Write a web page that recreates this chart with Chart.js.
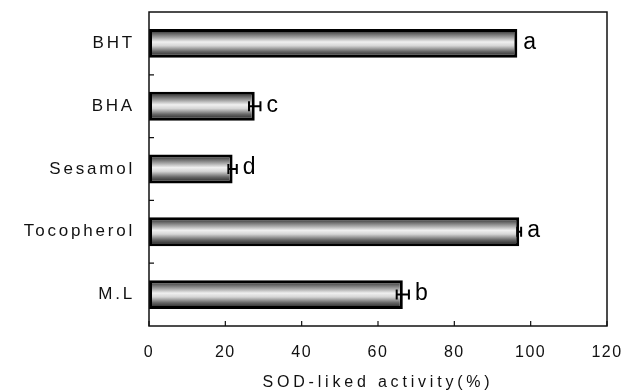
<!DOCTYPE html>
<html>
<head>
<meta charset="utf-8">
<script src="https://cdn.jsdelivr.net/npm/chart.js@4.4.0/dist/chart.umd.min.js"></script>
<style>
  html, body { margin: 0; padding: 0; background: #fff; }
  #wrap { width: 638px; height: 392px; }
</style>
</head>
<body>
<div id="wrap"><canvas id="sod_chart"></canvas></div>
<script>
const samples = ["BHT", "BHA", "Sesamol", "Tocopherol", "M.L"];
const activity = [96.5, 27.7, 21.9, 97, 66.5];
const errors = [0, 1.5, 1.1, 0.5, 1.6];
const letters = ["a", "c", "d", "a", "b"];
const xTicks = [0, 20, 40, 60, 80, 100, 120];

const ctx = document.getElementById("sod_chart").getContext("2d");

function barGradient(context) {
  const chart = context.chart;
  const y = chart.scales.y;
  if (!chart.chartArea || !y) return "#999";
  const cy = y.getPixelForValue(context.dataIndex);
  const half = 14.5;
  const g = chart.ctx.createLinearGradient(0, cy - half, 0, cy + half);
  g.addColorStop(0, "#111");
  g.addColorStop(0.15, "#5e5e5e");
  g.addColorStop(0.3, "#a5a5a5");
  g.addColorStop(0.45, "#f0f0f0");
  g.addColorStop(0.58, "#d6d6d6");
  g.addColorStop(0.78, "#666");
  g.addColorStop(1, "#111");
  return g;
}

// wrap a scale's drawing so its text gets some letter spacing
function spaced(fn, px) {
  return function () {
    const c = this.ctx;
    const old = c.letterSpacing;
    c.letterSpacing = px;
    const r = fn.apply(this, arguments);
    c.letterSpacing = old;
    return r;
  };
}

// frame, inward ticks, error bars and letters
const extras = {
  id: "extras",
  afterDatasetsDraw(chart) {
    const c = chart.ctx;
    const area = chart.chartArea;
    const x = chart.scales.x;
    const y = chart.scales.y;
    c.save();
    c.strokeStyle = "#111";
    c.lineWidth = 1.5;
    c.strokeRect(area.left, area.top, area.right - area.left, area.bottom - area.top);

    // y ticks between categories
    const step = (area.bottom - area.top) / samples.length;
    c.beginPath();
    for (let i = 1; i < samples.length; i++) {
      const py = y.getPixelForValue(i) - step / 2;
      c.moveTo(area.left, py);
      c.lineTo(area.left + 5, py);
    }
    // x ticks
    xTicks.forEach(v => {
      const px = x.getPixelForValue(v);
      c.moveTo(px, area.bottom);
      c.lineTo(px, area.bottom - 5);
    });
    c.lineWidth = 1.2;
    c.stroke();

    // error bars
    c.lineWidth = 2;
    c.strokeStyle = "#000";
    for (let i = 0; i < activity.length; i++) {
      const cy = y.getPixelForValue(i);
      if (errors[i] > 0) {
        const x1 = x.getPixelForValue(activity[i] - errors[i]);
        const x2 = x.getPixelForValue(activity[i] + errors[i]);
        c.beginPath();
        c.moveTo(x1, cy); c.lineTo(x2, cy);
        c.moveTo(x1, cy - 5); c.lineTo(x1, cy + 5);
        c.moveTo(x2, cy - 5); c.lineTo(x2, cy + 5);
        c.stroke();
      }
      const lx = x.getPixelForValue(activity[i] + errors[i]) + 6;
      c.fillStyle = "#000";
      c.font = "23px 'Liberation Sans', Arial, sans-serif";
      c.textAlign = "left";
      c.textBaseline = "middle";
      c.fillText(letters[i], lx, cy - 1);
    }
    c.restore();
  }
};

new Chart(ctx, {
  type: "bar",
  data: {
    labels: samples,
    datasets: [{
      data: activity,
      backgroundColor: barGradient,
      borderColor: "#000",
      borderWidth: 3,
      borderSkipped: false,
      barPercentage: 0.46,
      categoryPercentage: 1
    }]
  },
  options: {
    indexAxis: "y",
    responsive: true,
    maintainAspectRatio: false,
    animation: false,
    layout: { padding: { top: 12, right: 31, left: 0, bottom: 0 } },
    plugins: { legend: { display: false }, tooltip: { enabled: false } },
    scales: {
      x: {
        min: 0,
        max: 120,
        afterFit(scale) { scale.height = 66; },
        afterUpdate(scale) {
          if (!scale._spaced) {
            scale.drawLabels = spaced(scale.drawLabels, "1.5px");
            scale.drawTitle = spaced(scale.drawTitle, "3.8px");
            scale._spaced = true;
          }
        },
        afterBuildTicks(scale) { scale.ticks = xTicks.map(v => ({ value: v })); },
        grid: { display: false, drawTicks: false },
        border: { display: false },
        ticks: {
          padding: 17,
          color: "#111",
          font: { family: "'Liberation Sans', Arial, sans-serif", size: 16 },
          maxRotation: 0
        },
        title: {
          display: true,
          text: "SOD-liked activity(%)",
          color: "#111",
          padding: { top: 0, bottom: 0 },
          font: { family: "'Liberation Sans', Arial, sans-serif", size: 16 }
        }
      },
      y: {
        afterFit(scale) {
          scale.width = 149;
          scale.paddingTop = 0;
          scale.paddingBottom = 0;
        },
        afterUpdate(scale) {
          if (!scale._spaced) {
            scale.drawLabels = spaced(scale.drawLabels, "2.8px");
            scale._spaced = true;
          }
        },
        grid: { display: false, drawTicks: false },
        border: { display: false },
        ticks: {
          padding: 14,
          color: "#111",
          font: { family: "'Liberation Sans', Arial, sans-serif", size: 17 }
        }
      }
    }
  },
  plugins: [extras]
});
</script>
</body>
</html>
